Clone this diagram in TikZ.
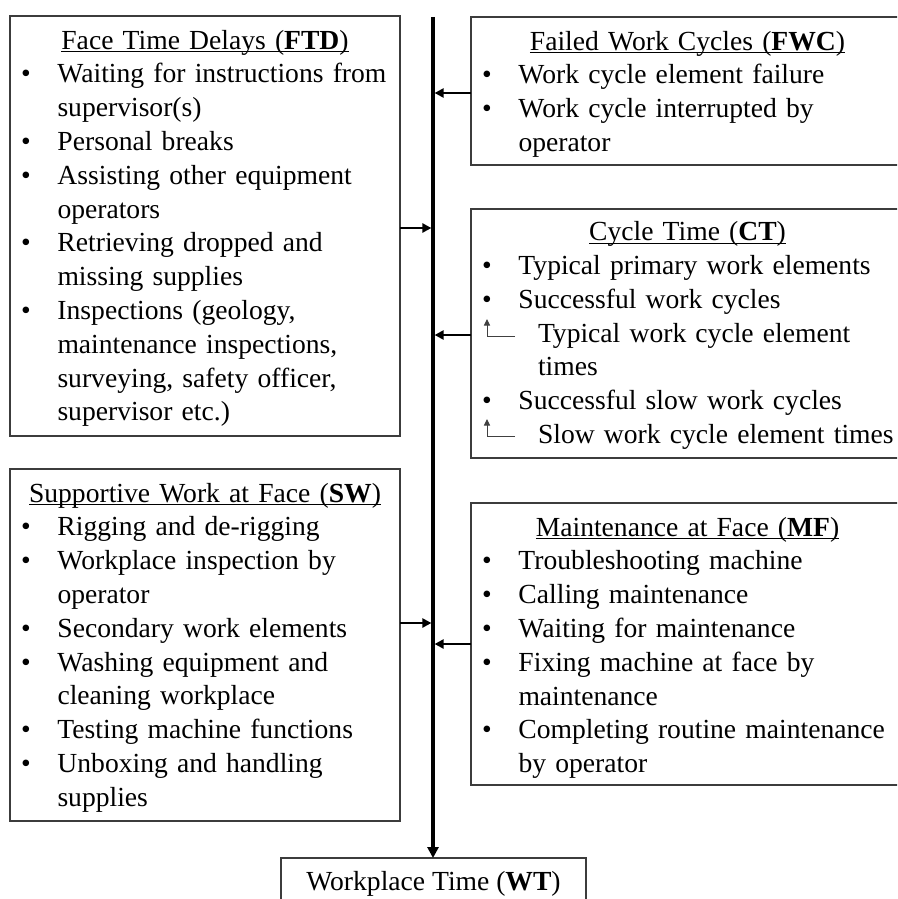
\documentclass[tikz,border=0pt]{standalone}
\usepackage{fontspec}
\setmainfont{Liberation Serif}
\usetikzlibrary{arrows.meta,calc}
\definecolor{boxc}{HTML}{3C3C3C}
\newcommand\ulx[1]{\setbox0\hbox{#1}\rlap{\rule[-3.2pt]{\wd0}{1.1pt}}\box0}
\newcommand\btitle[1]{\noindent\makebox[\linewidth][c]{\strut\ulx{#1}}\par}
\newcommand\bitem[1]{\noindent\strut\makebox[47.5pt][l]{\hspace{11pt}\textbullet}\mbox{#1}\par}
\newcommand\cont[1]{\noindent\strut\hspace*{47.5pt}\mbox{#1}\par}
\newcommand\subit[1]{\noindent\strut\hspace*{67pt}\mbox{#1}\par}
\tikzset{
  box/.style={draw=boxc,line width=1.3pt,anchor=north west,inner sep=0pt,outer sep=0pt},
  txt/.style={anchor=north west,inner sep=0pt,outer sep=0pt,align=left,font=\fontsize{27.6pt}{33.8pt}\selectfont},
  spine/.style={line width=3.2pt,-{Triangle[length=11pt,width=11pt]}},
  feed/.style={line width=2.8pt,-{Triangle[length=9pt,width=9pt]}},
  subarr/.style={line width=1pt,draw=black!75,-{Triangle[length=6.5pt,width=6pt]}}
}
\begin{document}
\begin{tikzpicture}[x=1pt,y=-1pt]
\useasboundingbox (0,0) rectangle (897,899);
\clip (0,0) rectangle (897,899);
% boxes
\node[box,minimum width=390pt,minimum height=420pt] (FTD) at (10,16) {};
\node[box,minimum width=433pt,minimum height=148pt] (FWC) at (471,17) {};
\node[box,minimum width=433pt,minimum height=249pt] (CT) at (471,209) {};
\node[box,minimum width=390pt,minimum height=352pt] (SW) at (10,469) {};
\node[box,minimum width=433pt,minimum height=282pt] (MF) at (471,503) {};
\node[box,minimum width=305pt,minimum height=60pt] (WT) at (281,858) {};
% texts
\node[txt,text width=390pt] (FTDt) at ($(FTD.north west)+(0,9.5)$) {%
\btitle{Face Time Delays (\textbf{FTD})}
\bitem{Waiting for instructions from}
\cont{supervisor(s)}
\bitem{Personal breaks}
\bitem{Assisting other equipment}
\cont{operators}
\bitem{Retrieving dropped and}
\cont{missing supplies}
\bitem{Inspections (geology,}
\cont{maintenance inspections,}
\cont{surveying, safety officer,}
\cont{supervisor etc.)}};
\node[txt,text width=433pt] (FWCt) at ($(FWC.north west)+(0,9.5)$) {%
\btitle{Failed Work Cycles (\textbf{FWC})}
\bitem{Work cycle element failure}
\bitem{Work cycle interrupted by}
\cont{operator}};
\node[txt,text width=433pt] (CTt) at ($(CT.north west)+(0,8)$) {%
\btitle{Cycle Time (\textbf{CT})}
\bitem{Typical primary work elements}
\bitem{Successful work cycles}
\subit{Typical work cycle element}
\subit{times}
\bitem{Successful slow work cycles}
\subit{Slow work cycle element times}};
\node[txt,text width=390pt] (SWt) at ($(SW.north west)+(0,9.5)$) {%
\btitle{Supportive Work at Face (\textbf{SW})}
\bitem{Rigging and de-rigging}
\bitem{Workplace inspection by}
\cont{operator}
\bitem{Secondary work elements}
\bitem{Washing equipment and}
\cont{cleaning workplace}
\bitem{Testing machine functions}
\bitem{Unboxing and handling}
\cont{supplies}};
\node[txt,text width=433pt] (MFt) at ($(MF.north west)+(0,9.5)$) {%
\btitle{Maintenance at Face (\textbf{MF})}
\bitem{Troubleshooting machine}
\bitem{Calling maintenance}
\bitem{Waiting for maintenance}
\bitem{Fixing machine at face by}
\cont{maintenance}
\bitem{Completing routine maintenance}
\cont{by operator}};
\node[anchor=base,inner sep=0pt,font=\fontsize{27.6pt}{33.8pt}\selectfont] (WTt) at (433.5,890) {Workplace Time (\textbf{WT})};
% spine
\coordinate (top) at (433,17);
\coordinate (s1) at (433,93);
\coordinate (s2) at (433,228);
\coordinate (s3) at (433,335);
\coordinate (s4) at (433,623);
\coordinate (s5) at (433,644);
\draw[spine] (top) -- (top |- WT.north);
\draw[feed] (FWC.west |- s1) -- ([xshift=1.6pt]s1);
\draw[feed] (FTD.east |- s2) -- ([xshift=-1.6pt]s2);
\draw[feed] (CT.west |- s3) -- ([xshift=1.6pt]s3);
\draw[feed] (SW.east |- s4) -- ([xshift=-1.6pt]s4);
\draw[feed] (MF.west |- s5) -- ([xshift=1.6pt]s5);
% sub arrows in CT
\draw[subarr] ($(CT.north west)+(44,127)$) -- ($(CT.north west)+(16,127)$) -- ($(CT.north west)+(16,110)$);
\draw[subarr] ($(CT.north west)+(44,227)$) -- ($(CT.north west)+(16,227)$) -- ($(CT.north west)+(16,210)$);
\end{tikzpicture}
\end{document}
